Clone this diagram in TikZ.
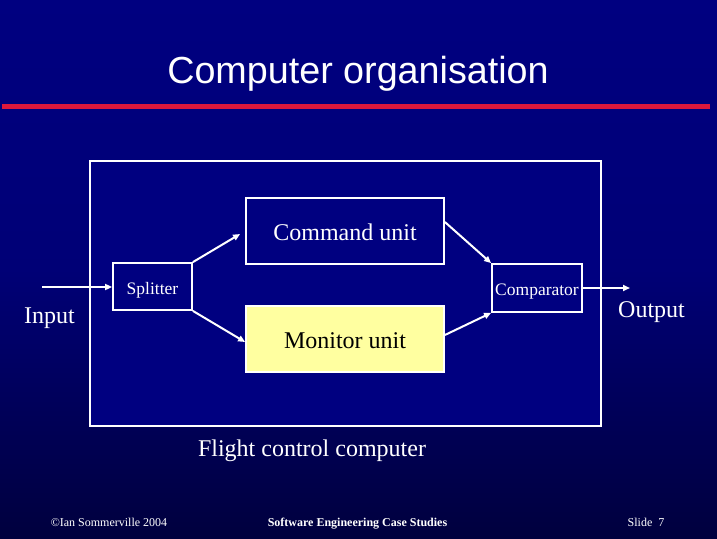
\documentclass[tikz,border=0pt]{standalone}
\usepackage{fontspec}
\setmainfont{Liberation Serif}
\newfontfamily\titlefont{Liberation Sans}
\usetikzlibrary{arrows.meta}
\definecolor{bgtop}{RGB}{0,0,128}
\definecolor{bgbot}{RGB}{0,0,62}
\definecolor{navybox}{RGB}{0,0,128}
\definecolor{redline}{RGB}{220,24,60}
\definecolor{paleyellow}{RGB}{255,255,160}
\tikzset{
  unitbox/.style={draw=white, line width=1.8pt, fill=navybox, text=white, inner sep=0pt, text height=18pt, text depth=0pt, font=\fontsize{24}{28}\selectfont},
  smallbox/.style={draw=white, line width=1.8pt, fill=navybox, text=white, inner sep=0pt, text depth=0pt, font=\fontsize{17.5}{20}\selectfont},
  conn/.style={draw=white, line width=2pt, -{Triangle[length=7pt,width=6pt]}},
  label/.style={text=white, inner sep=0pt, anchor=base, font=\fontsize{24}{28}\selectfont},
  foot/.style={text=white, inner sep=0pt, anchor=base, font=\fontsize{12}{14}\selectfont}
}
\begin{document}
\begin{tikzpicture}[x=1pt,y=-1pt]
\useasboundingbox (0,0) rectangle (717,538);
\shade[top color=bgtop, bottom color=bgbot, middle color=bgtop!85!bgbot] (0,0) rectangle (717,538);
% title
\node[text=white, inner sep=0pt, anchor=base, font=\titlefont\fontsize{37.7}{42}\selectfont] (title) at (358,83) {Computer organisation};
\fill[redline] (2,103.5) rectangle (710,108.5);
% big box
\node[draw=white, line width=1.8pt, fill=navybox, minimum width=511pt, minimum height=265pt, inner sep=0pt] (fcc) at (345.5,293.5) {};
\node[label] (fcclabel) at (312,456) {Flight control computer};
% units
\node[unitbox, minimum width=198pt, minimum height=66pt] (cmd) at (345,231) {Command unit};
\node[unitbox, fill=paleyellow, text=black, minimum width=198pt, minimum height=66pt] (mon) at (345,339) {Monitor unit};
\node[smallbox, text height=15pt, minimum width=79pt, minimum height=47pt] (split) at (152.5,286.5) {Splitter};
\node[smallbox, text height=14pt, minimum width=90pt, minimum height=48pt] (comp) at (537,288) {Comparator};
% input/output
\coordinate (inp) at (42,287);
\coordinate (outp) at (630,288);
\node[label] (inlabel) at (49.5,323) {Input};
\node[label] (outlabel) at (651.5,317) {Output};
% connectors
\draw[conn] (inp) -- (inp -| split.west);
\draw[conn] (split.north east) -- ([xshift=-5pt,yshift=-3pt]cmd.west);
\draw[conn] (split.south east) -- ([yshift=-3pt]mon.west);
\draw[conn] ([yshift=9pt]cmd.east) -- (comp.north west);
\draw[conn] ([yshift=4pt]mon.east) -- (comp.south west);
\draw[conn] (comp.east) -- (outp);
% footer
\node[foot] (copy) at (109,526) {\textcopyright Ian Sommerville 2004};
\node[foot, font=\bfseries\fontsize{12}{14}\selectfont] (course) at (357.5,526) {Software Engineering Case Studies};
\node[foot] (slide) at (646,526) {Slide\ \ 7};
\end{tikzpicture}
\end{document}
